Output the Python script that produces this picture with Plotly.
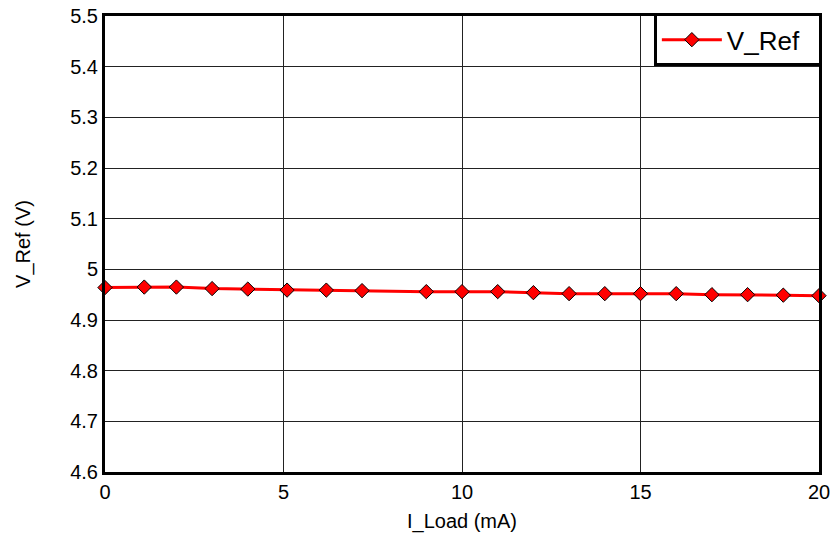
import plotly.graph_objects as go

i_load = [0, 1.1, 2, 3, 4, 5.1, 6.2, 7.2, 9, 10, 11, 12, 13, 14, 15, 16, 17, 18, 19, 20]
v_ref = [4.964, 4.965, 4.965, 4.962, 4.961, 4.959, 4.959, 4.958, 4.956, 4.956,
         4.956, 4.954, 4.952, 4.952, 4.952, 4.952, 4.950, 4.950, 4.949, 4.948]

fig = go.Figure()
fig.add_trace(go.Scatter(
    x=i_load, y=v_ref, mode="lines+markers", name="V_Ref  ",
    line=dict(color="#ff0000", width=3),
    marker=dict(symbol="diamond", size=11, color="#ff0000",
                line=dict(color="#000000", width=1)),
    cliponaxis=False,
))

FAM = "Liberation Sans, Arial, sans-serif"
font = dict(family=FAM, size=20, color="#000000")

fig.update_layout(
    width=837, height=542,
    margin=dict(l=105, r=18, t=16, b=70),
    paper_bgcolor="white", plot_bgcolor="white",
    font=font,
    showlegend=True,
    legend=dict(x=1.004, xanchor="right", y=1.006, yanchor="top",
                bgcolor="white", bordercolor="black", borderwidth=3,
                font=dict(family=FAM, size=26, color="#000000"),
                itemwidth=60),
    xaxis=dict(range=[0, 20], dtick=5, tick0=0, showgrid=True,
               gridcolor="#222222", gridwidth=1, zeroline=False,
               showline=True, linecolor="black", linewidth=3, mirror=True,
               ticks="", automargin=False,
               title=dict(text="I_Load (mA)", standoff=12, font=font),
               tickfont=font),
    yaxis=dict(range=[4.6, 5.5], dtick=0.1, tick0=4.6, showgrid=True,
               gridcolor="#222222", gridwidth=1, zeroline=False,
               showline=True, linecolor="black", linewidth=3, mirror=True,
               ticks="", automargin=False,
               title=dict(text="V_Ref (V)", standoff=35, font=font),
               tickfont=font),
)

fig.write_html("out.html", config={"displayModeBar": False},
               post_script="document.body.style.margin='0';")
